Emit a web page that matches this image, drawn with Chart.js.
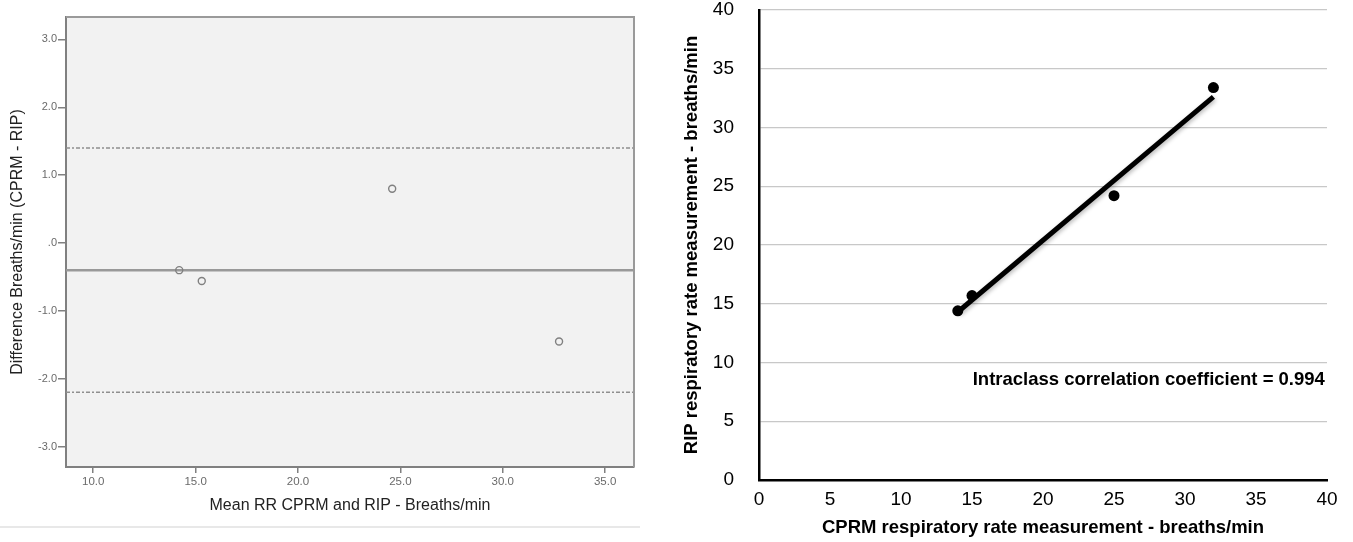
<!DOCTYPE html>
<html>
<head>
<meta charset="utf-8">
<script src="https://cdn.jsdelivr.net/npm/chart.js@4.4.1/dist/chart.umd.min.js"></script>
<style>
  html, body { margin: 0; padding: 0; background: #ffffff; }
  body { width: 1353px; height: 542px; position: relative; overflow: hidden; }
  #leftBox { position: absolute; left: 0; top: 0; width: 650px; height: 542px; }
  #baChart { filter: blur(0.4px); }
  #rightBox { position: absolute; left: 650px; top: 0; width: 703px; height: 542px; }
</style>
</head>
<body>
<div id="leftBox"><canvas id="baChart" width="650" height="542"></canvas></div>
<div id="rightBox"><canvas id="iccChart" width="703" height="542"></canvas></div>
<script>
// ---------- Data: Bland-Altman (left) ----------
const baMeanRR = [14.2, 15.3, 24.6, 32.75];
const baDiffRR = [-0.40, -0.56, 0.80, -1.45];
const baMeanDiff = [-0.40];
const baLimits = [1.40, -2.20];
const baXTicks = [10, 15, 20, 25, 30, 35];
const baXTickLabels = ['10.0', '15.0', '20.0', '25.0', '30.0', '35.0'];
const baYTicks = [-3, -2, -1, 0, 1, 2, 3];
const baYTickLabels = ['-3.0', '-2.0', '-1.0', '.0', '1.0', '2.0', '3.0'];

// ---------- Data: CPRM vs RIP (right) ----------
const cprmRR = [14, 15, 25, 32];
const ripRR = [14.4, 15.7, 24.2, 33.4];
const trendX = [14, 32];
const trendY = [14.3, 32.6];
const iccTicks = [0, 5, 10, 15, 20, 25, 30, 35, 40];
const iccText = 'Intraclass correlation coefficient = 0.994';

// ---------- Left chart ----------
const BA_XMIN = 8.67, BA_XMAX = 36.41, BA_YMIN = -3.30, BA_YMAX = 3.33;
const FONT = '"Liberation Sans", Arial, Helvetica, sans-serif';

const baFrame = {
  id: 'baFrame',
  beforeDraw(chart) {
    const {ctx, chartArea: a} = chart;
    ctx.save();
    ctx.fillStyle = '#f2f2f2';
    ctx.fillRect(a.left, a.top, a.right - a.left, a.bottom - a.top);
    ctx.restore();
  },
  afterDraw(chart) {
    const {ctx, chartArea: a} = chart;
    ctx.save();
    ctx.strokeStyle = '#9a9a9a';
    ctx.lineWidth = 2;
    ctx.beginPath();
    ctx.moveTo(a.left, a.top);
    ctx.lineTo(a.right, a.top);
    ctx.lineTo(a.right, a.bottom);
    ctx.stroke();
    // separator line under the panel
    ctx.strokeStyle = '#e8e8e8';
    ctx.lineWidth = 2;
    ctx.beginPath();
    ctx.moveTo(0, 527);
    ctx.lineTo(640, 527);
    ctx.stroke();
    ctx.restore();
  }
};

function hLine(v) { return [{x: BA_XMIN, y: v}, {x: BA_XMAX, y: v}]; }

new Chart(document.getElementById('baChart'), {
  type: 'scatter',
  data: {
    datasets: [
      { type: 'line', data: hLine(baMeanDiff[0]), borderColor: '#999999', borderWidth: 2.5,
        pointRadius: 0, fill: false, order: 3 },
      { type: 'line', data: hLine(baLimits[0]), borderColor: '#8f8f8f', borderWidth: 1.5,
        borderDash: [4, 2, 2, 2], pointRadius: 0, fill: false, order: 3 },
      { type: 'line', data: hLine(baLimits[1]), borderColor: '#8f8f8f', borderWidth: 1.5,
        borderDash: [4, 2, 2, 2], pointRadius: 0, fill: false, order: 3 },
      { data: baMeanRR.map((m, i) => ({x: m, y: baDiffRR[i]})), pointRadius: 3.5,
        pointBorderWidth: 1.4, pointBorderColor: '#808080', pointBackgroundColor: 'rgba(0,0,0,0)', order: 1 }
    ]
  },
  options: {
    responsive: false, animation: false, devicePixelRatio: 1,
    layout: { padding: { left: 0, right: 16, top: 17, bottom: 0 } },
    plugins: { legend: { display: false }, tooltip: { enabled: false } },
    scales: {
      x: {
        type: 'linear', min: BA_XMIN, max: BA_XMAX,
        afterBuildTicks(s) { s.ticks = baXTicks.map(v => ({value: v})); },
        afterFit(s) { s.height = 75; },
        grid: { drawOnChartArea: false, drawTicks: true, tickLength: 6, color: '#808080', lineWidth: 1.5 },
        border: { color: '#808080', width: 2 },
        ticks: { padding: 2, color: '#6a6a6a', font: { family: FONT, size: 11.5 }, maxRotation: 0,
          callback: (v, i) => baXTickLabels[i] },
        title: { display: true, text: 'Mean RR CPRM and RIP - Breaths/min', color: '#222',
          font: { family: FONT, size: 16 }, padding: { top: 0, bottom: 27 } }
      },
      y: {
        type: 'linear', min: BA_YMIN, max: BA_YMAX,
        afterBuildTicks(s) { s.ticks = baYTicks.map(v => ({value: v})); },
        afterFit(s) { s.width = 66; },
        grid: { drawOnChartArea: false, drawTicks: true, tickLength: 8, color: '#808080', lineWidth: 1.5 },
        border: { color: '#808080', width: 2 },
        ticks: { padding: 1, color: '#6a6a6a', font: { family: FONT, size: 11 },
          callback: (v, i) => baYTickLabels[i] },
        title: { display: true, text: 'Difference Breaths/min (CPRM - RIP)', color: '#222',
          font: { family: FONT, size: 16 }, padding: { top: 8, bottom: 0 } }
      }
    }
  },
  plugins: [baFrame]
});

// ---------- Right chart ----------
const ANNOT_X = 39.85, ANNOT_Y = 8.1;

const iccExtras = {
  id: 'iccExtras',
  beforeDatasetDraw(chart, args) {
    if (args.index === 0) {
      const ctx = chart.ctx;
      ctx.save();
      ctx.shadowColor = 'rgba(0,0,0,0.28)';
      ctx.shadowBlur = 4;
      ctx.shadowOffsetX = 1;
      ctx.shadowOffsetY = 2;
    }
  },
  afterDatasetDraw(chart, args) {
    if (args.index === 0) chart.ctx.restore();
  },
  afterDatasetsDraw(chart) {
    const {ctx, scales: {x, y}} = chart;
    ctx.save();
    ctx.font = 'bold 18.5px ' + FONT;
    ctx.fillStyle = '#000';
    ctx.textAlign = 'right';
    ctx.textBaseline = 'alphabetic';
    ctx.fillText(iccText, x.getPixelForValue(ANNOT_X), y.getPixelForValue(ANNOT_Y));
    ctx.restore();
  }
};

new Chart(document.getElementById('iccChart'), {
  type: 'scatter',
  data: {
    datasets: [
      { type: 'line', data: trendX.map((v, i) => ({x: v, y: trendY[i]})), borderColor: '#000',
        borderWidth: 5, pointRadius: 0, fill: false, borderCapStyle: 'butt', order: 2 },
      { data: cprmRR.map((v, i) => ({x: v, y: ripRR[i]})), pointRadius: 5.5, pointBorderWidth: 0,
        pointBackgroundColor: '#000', pointBorderColor: '#000', order: 1 }
    ]
  },
  options: {
    responsive: false, animation: false, devicePixelRatio: 1,
    layout: { padding: { left: 0, right: 26, top: 10, bottom: 0 } },
    plugins: { legend: { display: false }, tooltip: { enabled: false } },
    scales: {
      x: {
        type: 'linear', min: 0, max: 40,
        afterBuildTicks(s) { s.ticks = iccTicks.map(v => ({value: v})); },
        afterFit(s) { s.height = 62; },
        grid: { display: false, drawTicks: false },
        border: { color: '#000', width: 2.5 },
        ticks: { padding: 8, color: '#000', font: { family: FONT, size: 19 }, maxRotation: 0 },
        title: { display: true, text: 'CPRM respiratory rate measurement - breaths/min', color: '#000',
          font: { family: FONT, size: 18.5, weight: 'bold' }, padding: { top: 0, bottom: 3 } }
      },
      y: {
        type: 'linear', min: 0, max: 40,
        afterBuildTicks(s) { s.ticks = iccTicks.map(v => ({value: v})); },
        afterFit(s) { s.width = 109; s.paddingTop = 0; s.paddingBottom = 0; },
        grid: { drawTicks: false, color: '#c8c8c8', lineWidth: 1.2 },
        border: { color: '#000', width: 2.5 },
        ticks: { padding: 25, color: '#000', font: { family: FONT, size: 19 } },
        title: { display: true, text: 'RIP respiratory rate measurement - breaths/min', color: '#000',
          font: { family: FONT, size: 18.5, weight: 'bold' }, padding: { top: 31, bottom: 0 } }
      }
    }
  },
  plugins: [iccExtras]
});
</script>
</body>
</html>
